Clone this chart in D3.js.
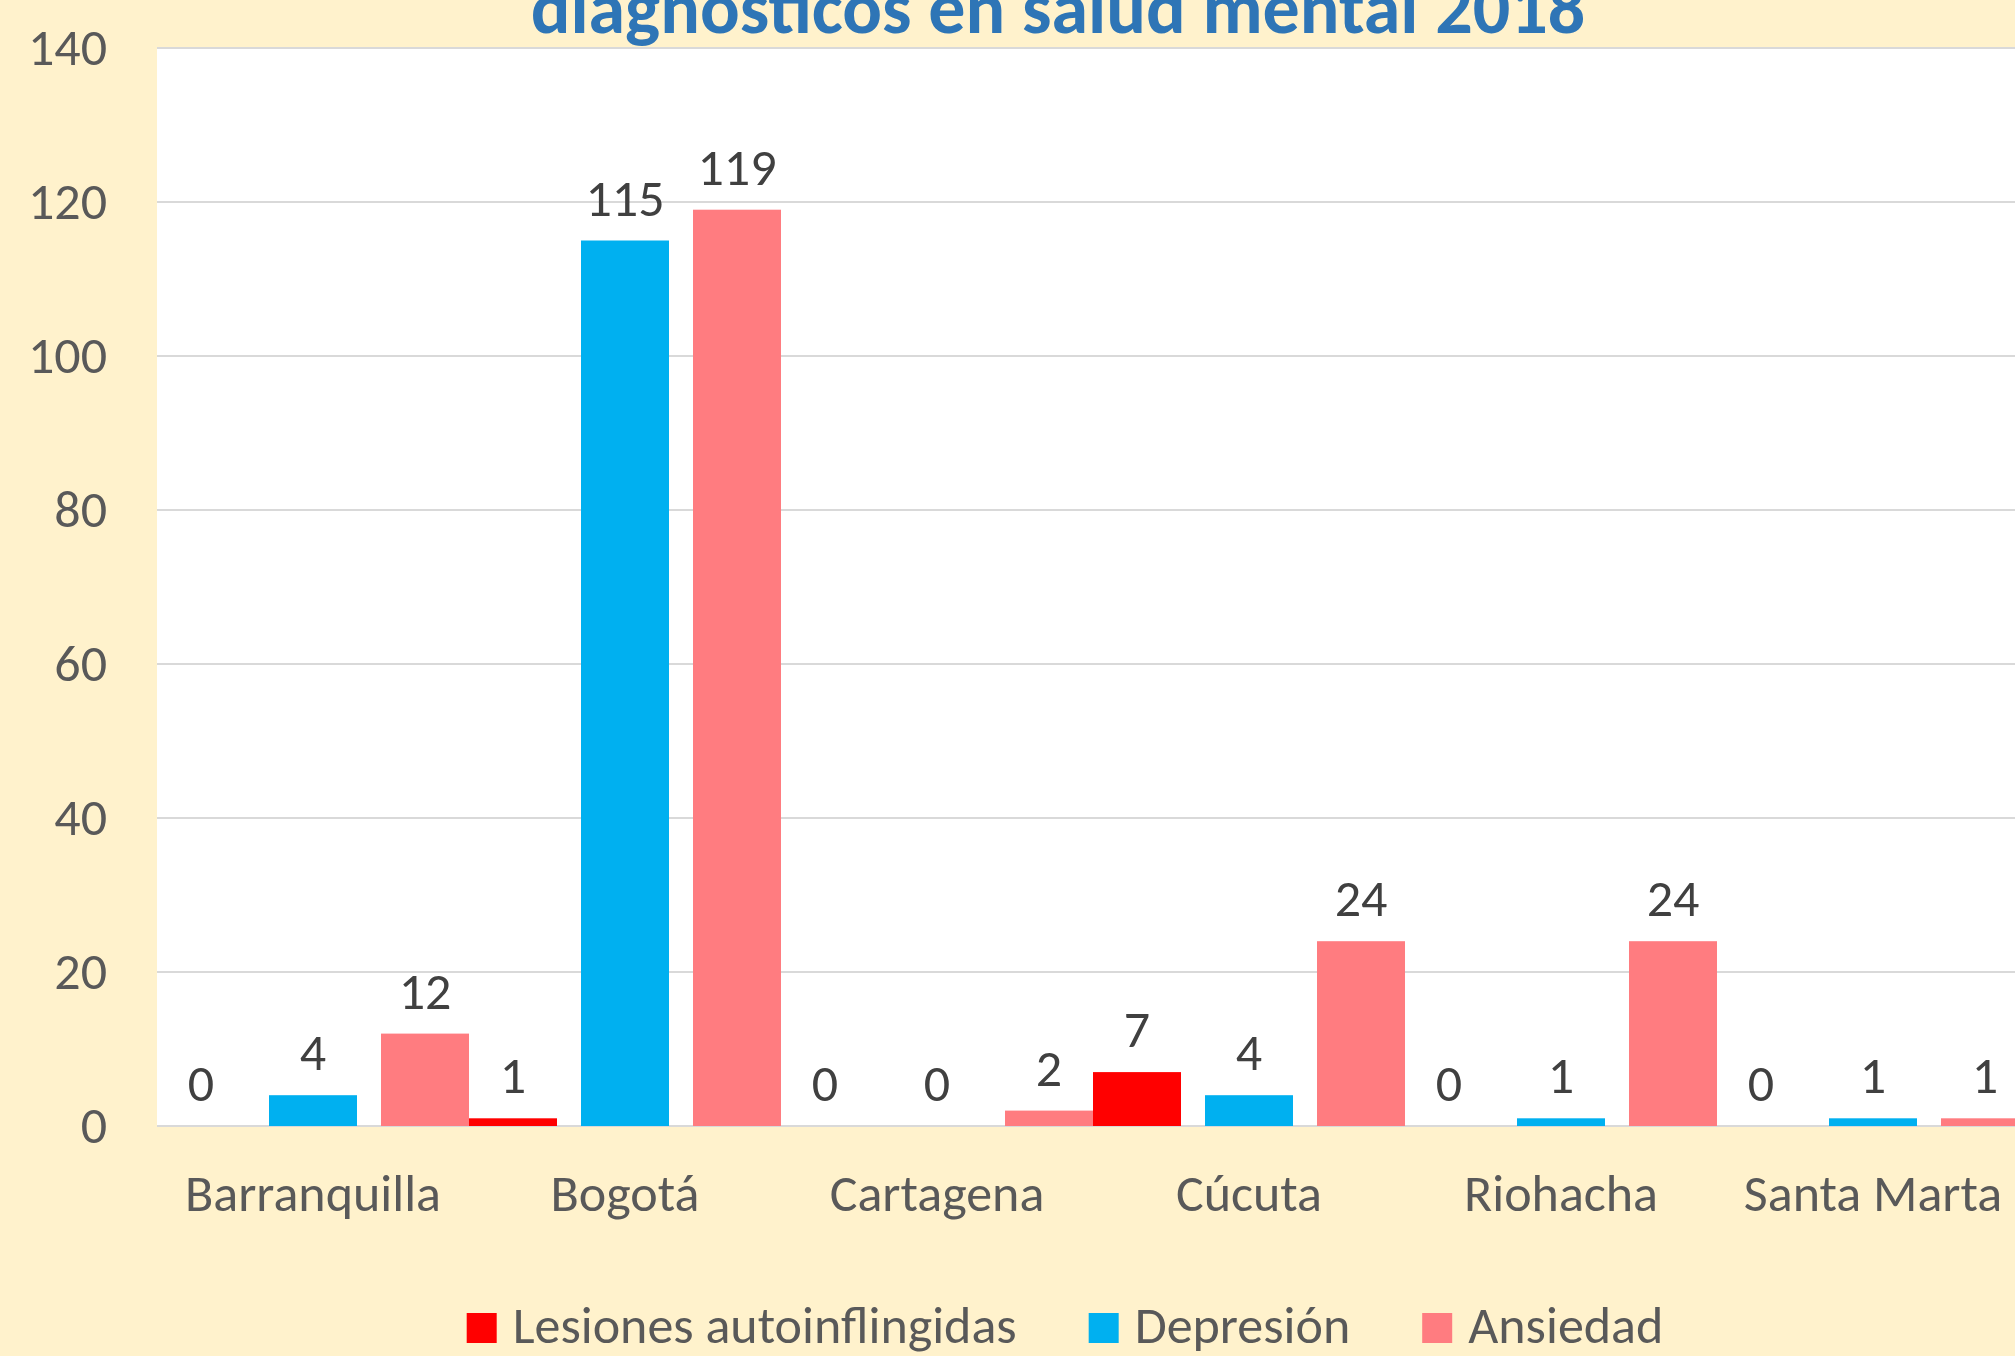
<!DOCTYPE html>
<html>
<head>
<meta charset="utf-8">
<script src="https://cdn.jsdelivr.net/npm/d3@7"></script>
<style>
  html, body { margin: 0; padding: 0; background: #FFF2CC; overflow: hidden; }
  svg { display: block; font-family: Calibri, Carlito, Lato, sans-serif; }
</style>
</head>
<body>
<div id="chart"></div>
<script>
const width = 2015;
const height = 1356;

// data
const cities = ["Barranquilla", "Bogotá", "Cartagena", "Cúcuta", "Riohacha", "Santa Marta"];
const seriesNames = ["Lesiones autoinflingidas", "Depresión", "Ansiedad"];
const lesiones = [0, 1, 0, 7, 0, 0];
const depresion = [4, 115, 0, 4, 1, 1];
const ansiedad = [12, 119, 2, 24, 24, 1];
const colors = ["#FF0000", "#00B0F0", "#FF7C80"];
const yTicks = [0, 20, 40, 60, 80, 100, 120, 140];
const title = "diagnósticos en salud mental 2018";

const series = [lesiones, depresion, ansiedad];
const fontSize = "52px";

// plot area (chart is cut off on the right, as in the source)
const plotLeft = 157, plotTop = 48, plotBottom = 1126;
const step = 312;
const plotRight = plotLeft + step * cities.length;

const svg = d3.select("#chart").append("svg")
    .attr("width", width)
    .attr("height", height);

svg.append("rect")
    .attr("width", width).attr("height", height)
    .attr("fill", "#FFF2CC");

svg.append("rect")
    .attr("x", plotLeft).attr("y", plotTop)
    .attr("width", plotRight - plotLeft).attr("height", plotBottom - plotTop)
    .attr("fill", "#FFFFFF");

const x = d3.scaleBand()
    .domain(cities)
    .range([plotLeft, plotRight])
    .padding(0);

const xSub = d3.scaleBand()
    .domain(seriesNames)
    .range([0, x.bandwidth()])
    .paddingInner(24 / 112)
    .paddingOuter(0);

const y = d3.scaleLinear()
    .domain([0, 140])
    .range([plotBottom, plotTop]);

// gridlines
svg.append("g")
    .selectAll("line")
    .data(yTicks)
    .join("line")
    .attr("x1", plotLeft).attr("x2", plotRight)
    .attr("y1", d => y(d)).attr("y2", d => y(d))
    .attr("stroke", "#D9D9D9")
    .attr("stroke-width", 2);

// y axis labels
const yAxis = svg.append("g")
    .attr("transform", `translate(${plotLeft},0)`)
    .call(d3.axisLeft(y).tickValues(yTicks).tickSize(0).tickPadding(50));
yAxis.select(".domain").remove();
yAxis.selectAll("text")
    .attr("fill", "#595959")
    .style("font-family", "Calibri, Carlito, Lato, sans-serif")
    .style("font-size", fontSize);

// bars
const rows = [];
series.forEach((vals, s) => {
    vals.forEach((v, c) => rows.push({ city: cities[c], name: seriesNames[s], value: v, color: colors[s] }));
});

svg.append("g")
    .selectAll("rect")
    .data(rows)
    .join("rect")
    .attr("x", d => x(d.city) + xSub(d.name))
    .attr("y", d => y(d.value))
    .attr("width", xSub.bandwidth())
    .attr("height", d => y(0) - y(d.value))
    .attr("fill", d => d.color);

// data labels
svg.append("g")
    .selectAll("text")
    .data(rows)
    .join("text")
    .attr("x", d => x(d.city) + xSub(d.name) + xSub.bandwidth() / 2)
    .attr("y", d => y(d.value) - 25)
    .attr("text-anchor", "middle")
    .attr("fill", "#404040")
    .style("font-size", fontSize)
    .text(d => d.value);

// category labels
const xAxis = svg.append("g")
    .attr("transform", `translate(0,${plotBottom})`)
    .call(d3.axisBottom(x).tickSize(0).tickPadding(0));
xAxis.select(".domain").remove();
xAxis.selectAll("text")
    .attr("dy", null)
    .attr("y", 85)
    .attr("fill", "#595959")
    .style("font-family", "Calibri, Carlito, Lato, sans-serif")
    .style("font-size", fontSize);

// title (its first line is cut off in the source)
svg.append("text")
    .attr("x", 1058)
    .attr("y", 33)
    .attr("text-anchor", "middle")
    .attr("fill", "#2E75B6")
    .style("font-weight", "bold")
    .style("font-size", "74px")
    .text(title);

// legend, centred under the chart
const legend = svg.append("g");
const items = legend.selectAll("g")
    .data(seriesNames)
    .join("g");
items.append("rect")
    .attr("y", 1313)
    .attr("width", 30).attr("height", 30)
    .attr("fill", (d, i) => colors[i]);
items.append("text")
    .attr("x", 46)
    .attr("y", 1343)
    .attr("fill", "#595959")
    .style("font-size", fontSize)
    .text(d => d);

let cursor = 0;
items.each(function () {
    const g = d3.select(this);
    g.attr("transform", `translate(${cursor},0)`);
    const w = g.select("text").node().getComputedTextLength();
    cursor += 46 + w + 72;
});
const legendWidth = cursor - 72;
legend.attr("transform", `translate(${1065 - legendWidth / 2},0)`);
</script>
</body>
</html>
